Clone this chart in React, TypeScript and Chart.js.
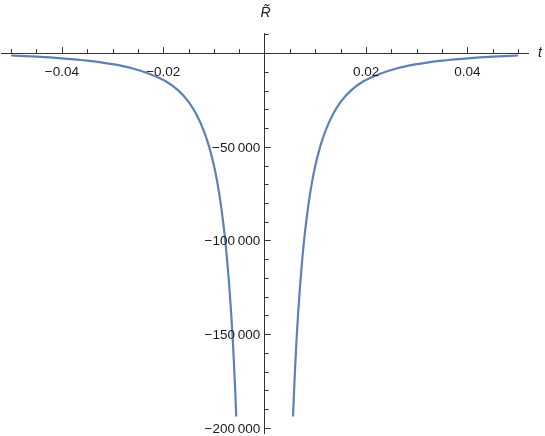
import React, { useEffect, useRef } from "react";
import { Chart, registerables } from "chart.js";

Chart.register(...registerables);

// Right branch (t > 0)
const tRight = [0.0056, 0.0058, 0.006, 0.0063, 0.0066, 0.007, 0.0075, 0.008, 0.0086, 0.0093, 0.01, 0.011, 0.012, 0.0135, 0.015, 0.017, 0.0195, 0.0225, 0.026, 0.03, 0.035, 0.04, 0.045, 0.05];
const rRight = [-194000, -180500, -168500, -152500, -139000, -123500, -107500, -94500, -81500, -69500, -60000, -49500, -41500, -32500, -26000, -20000, -15000, -11300, -8200, -5900, -4000, -2800, -1900, -1250];

// Left branch (t < 0)
const tLeft = [-0.05, -0.045, -0.04, -0.035, -0.03, -0.026, -0.0225, -0.0195, -0.017, -0.015, -0.0135, -0.012, -0.011, -0.01, -0.0093, -0.0086, -0.008, -0.0075, -0.007, -0.0066, -0.0063, -0.006, -0.0058, -0.0056];
const rLeft = [-1250, -1900, -2800, -4000, -5900, -8200, -11300, -15000, -20000, -26000, -32500, -41500, -49500, -60000, -69500, -81500, -94500, -107500, -123500, -139000, -152500, -168500, -180500, -194000];

// Axis ticks
const xLabelTicks = [-0.04, -0.02, 0.02, 0.04];
const xMinorTicks = [-0.05, -0.045, -0.04, -0.035, -0.03, -0.025, -0.02, -0.015, -0.01, -0.005, 0.005, 0.01, 0.015, 0.02, 0.025, 0.03, 0.035, 0.04, 0.045, 0.05];
const yLabelTicks = [-200000, -150000, -100000, -50000];
const yMinorTicks = [-200000, -190000, -180000, -170000, -160000, -150000, -140000, -130000, -120000, -110000, -100000, -90000, -80000, -70000, -60000, -50000, -40000, -30000, -20000, -10000, 10000];

const X_MIN = -0.052;
const X_MAX = 0.052;
const Y_MIN = -203000;
const Y_MAX = 10600;

const AXIS_COLOR = "#333333";
const TEXT_COLOR = "#1a1a1a";
const LINE_COLOR = "#5E81B5";
const FONT_FAMILY = "'Liberation Sans', Arial, sans-serif";

const isMajor = (v: number, list: number[]) => list.some((m) => Math.abs(m - v) < 1e-9);

const fmtX = (v: number) => (v < 0 ? "\u2212" : "") + Math.abs(v).toFixed(2);
const fmtY = (v: number) => {
  const s = Math.abs(Math.round(v)).toString().replace(/\B(?=(\d{3})+(?!\d))/g, "\u2009");
  return (v < 0 ? "\u2212" : "") + s;
};

const axisDecor = {
  id: "axisDecor",
  afterDraw(chart: any) {
    const { ctx } = chart;
    const xs = chart.scales.x;
    const ys = chart.scales.y;
    const x0 = xs.getPixelForValue(0);
    const y0 = ys.getPixelForValue(0);
    ctx.save();
    ctx.strokeStyle = AXIS_COLOR;
    ctx.lineWidth = 1;
    ctx.beginPath();
    xMinorTicks.forEach((v) => {
      const px = Math.round(xs.getPixelForValue(v)) + 0.5;
      const len = isMajor(v, xLabelTicks) ? 6 : 4;
      ctx.moveTo(px, y0);
      ctx.lineTo(px, y0 - len);
    });
    yMinorTicks.forEach((v) => {
      const py = Math.round(ys.getPixelForValue(v)) + 0.5;
      const len = isMajor(v, yLabelTicks) ? 6 : 4;
      ctx.moveTo(x0, py);
      ctx.lineTo(x0 + len, py);
    });
    ctx.stroke();

    // tick labels
    ctx.fillStyle = TEXT_COLOR;
    ctx.font = `13.5px ${FONT_FAMILY}`;
    ctx.textBaseline = "alphabetic";
    ctx.textAlign = "center";
    xLabelTicks.forEach((v) => {
      ctx.fillText(fmtX(v), xs.getPixelForValue(v), y0 + 23);
    });
    ctx.textAlign = "right";
    yLabelTicks.forEach((v) => {
      ctx.fillText(fmtY(v), x0 - 4.5, ys.getPixelForValue(v) + 4.8);
    });

    // axis labels
    ctx.font = `italic 14px ${FONT_FAMILY}`;
    ctx.textBaseline = "middle";
    ctx.textAlign = "center";
    ctx.fillText("t", chart.width - 5, y0);
    ctx.fillText("R\u0303", x0 + 1, 13);
    ctx.restore();
  },
};

export default function App() {
  const ref = useRef<HTMLCanvasElement>(null);

  useEffect(() => {
    const canvas = ref.current;
    if (!canvas) return;
    const chart = new Chart(canvas, {
      type: "line",
      data: {
        datasets: [
          {
            data: tLeft.map((t, i) => ({ x: t, y: rLeft[i] })),
            borderColor: LINE_COLOR,
            borderWidth: 2.2,
            pointRadius: 0,
            cubicInterpolationMode: "monotone",
            fill: false,
          },
          {
            data: tRight.map((t, i) => ({ x: t, y: rRight[i] })),
            borderColor: LINE_COLOR,
            borderWidth: 2.2,
            pointRadius: 0,
            cubicInterpolationMode: "monotone",
            fill: false,
          },
        ],
      },
      options: {
        responsive: false,
        animation: false,
        events: [],
        layout: { padding: { left: 1, right: 16.7, top: 33.3, bottom: 2.6 } },
        plugins: { legend: { display: false }, tooltip: { enabled: false } },
        scales: {
          x: {
            type: "linear",
            min: X_MIN,
            max: X_MAX,
            position: { y: 0 },
            afterBuildTicks: (s: any) => {
              s.ticks = xLabelTicks.map((value) => ({ value }));
            },
            afterFit: (s: any) => {
              s.height = 0;
            },
            grid: { display: false },
            border: { display: true, color: AXIS_COLOR, width: 1 },
            ticks: { display: false },
          },
          y: {
            type: "linear",
            min: Y_MIN,
            max: Y_MAX,
            position: { x: 0 },
            afterBuildTicks: (s: any) => {
              s.ticks = yLabelTicks.map((value) => ({ value }));
            },
            afterFit: (s: any) => {
              s.width = 0;
            },
            grid: { display: false },
            border: { display: true, color: AXIS_COLOR, width: 1 },
            ticks: { display: false },
          },
        },
      },
      plugins: [axisDecor],
    } as any);
    return () => chart.destroy();
  }, []);

  return (
    <div style={{ position: "absolute", left: 0, top: 0, width: 545, height: 436 }}>
      <canvas ref={ref} width={545} height={436} style={{ display: "block" }} />
    </div>
  );
}
